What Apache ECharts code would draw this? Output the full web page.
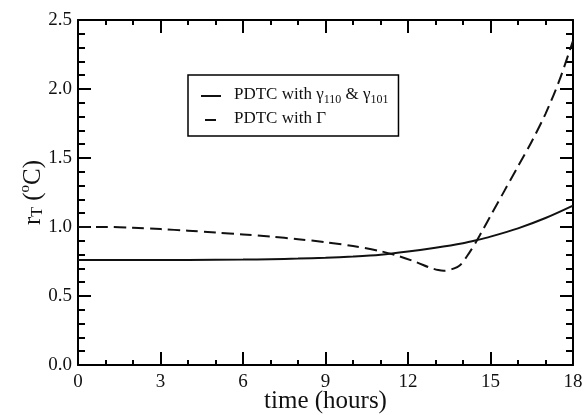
<!DOCTYPE html>
<html>
<head>
<meta charset="utf-8">
<script src="https://cdn.jsdelivr.net/npm/echarts@6/dist/echarts.min.js"></script>
<style>
  html, body { margin: 0; padding: 0; background: #fff; }
  #chart { width: 584px; height: 415px; }
</style>
</head>
<body>
<div id="chart"></div>
<script>
// time (hours) and r_T values
const solidTime = [0, 2, 4, 6, 7, 8, 9, 10, 11, 12, 13, 14, 14.5, 15, 16, 17, 18];
const solidR = [0.76, 0.76, 0.761, 0.764, 0.767, 0.771, 0.777, 0.786, 0.799, 0.822, 0.85, 0.883, 0.905, 0.93, 0.99, 1.065, 1.155];

const dashTime = [0, 1, 2, 3, 4, 5, 6, 7, 8, 9, 10, 11, 11.7, 12.3, 12.8, 13.1, 13.3, 13.6, 13.9, 14.25, 14.5, 14.75, 15, 15.5, 16, 16.5, 17, 17.5, 18];
const dashR = [1.0, 1.0, 0.995, 0.985, 0.973, 0.96, 0.946, 0.93, 0.912, 0.89, 0.862, 0.825, 0.787, 0.745, 0.705, 0.688, 0.683, 0.695, 0.725, 0.82, 0.9, 0.99, 1.08, 1.26, 1.44, 1.62, 1.82, 2.06, 2.35];

const seriesNames = ['gamma', 'Gamma'];
const xTicks = [0, 18, 3];
const yTicks = [0, 2.5, 0.5];

const font = '"Liberation Serif", "DejaVu Serif", serif';

const chart = echarts.init(document.getElementById('chart'));

const axisCommon = {
  axisLine: { onZero: false, lineStyle: { color: '#000', width: 2 } },
  axisTick: { inside: true, length: 13, lineStyle: { color: '#000', width: 2 } },
  splitLine: { show: false },
  nameMoveOverlap: false,
};

const xBase = {
  ...axisCommon,
  type: 'value',
  min: xTicks[0], max: xTicks[1], interval: xTicks[2],
  minorTick: { show: true, splitNumber: 3, length: 5, lineStyle: { color: '#000', width: 2 } },
};
const yBase = {
  ...axisCommon,
  type: 'value',
  min: yTicks[0], max: yTicks[1], interval: yTicks[2],
  minorTick: { show: true, splitNumber: 5, length: 7, lineStyle: { color: '#000', width: 2 } },
};

const option = {
  animation: false,
  grid: { left: 78, right: 11, top: 20, bottom: 50, outerBoundsMode: 'none' },
  legend: {
    orient: 'vertical',
    left: 188, top: 75,
    padding: [10, 10, 9, 12],
    itemGap: 4,
    itemWidth: 20,
    itemHeight: 2,
    borderColor: '#000',
    borderWidth: 1.5,
    borderRadius: 0,
    data: [
      { name: seriesNames[0] },
      { name: seriesNames[1], lineStyle: { type: [11, 30], dashOffset: -4 } },
    ],
    formatter: name => name === seriesNames[0]
      ? '{t|PDTC with γ}{s|110}{t| & γ}{s|101}'
      : '{t|PDTC with Γ}',
    textStyle: {
      padding: [0, 0, 0, 8],
      rich: {
        t: { fontFamily: font, fontSize: 17, color: '#111', lineHeight: 20, verticalAlign: 'top' },
        s: { fontFamily: font, fontSize: 12, color: '#111', lineHeight: 14, verticalAlign: 'bottom', padding: [9, 0, 0, 0] },
      },
    },
  },
  xAxis: [
    {
      ...xBase,
      position: 'bottom',
      name: 'time (hours)',
      nameLocation: 'middle',
      nameGap: 24,
      nameTextStyle: { fontFamily: font, fontSize: 25, color: '#111' },
      axisLabel: { fontFamily: font, fontSize: 19, color: '#111', margin: 8 },
    },
    { ...xBase, position: 'top', axisLabel: { show: false } },
  ],
  yAxis: [
    {
      ...yBase,
      position: 'left',
      name: '{r|r}{sub|T}{r| (}{sup|o}{r|C)}',
      nameLocation: 'middle',
      nameGap: 32,
      nameTextStyle: {
        rich: {
          r: { fontFamily: font, fontSize: 25, color: '#111', verticalAlign: 'bottom', lineHeight: 28 },
          sub: { fontFamily: font, fontSize: 16, color: '#111', verticalAlign: 'bottom', lineHeight: 16, padding: [8, 0, 0, 0] },
          sup: { fontFamily: font, fontSize: 15, color: '#111', verticalAlign: 'top', lineHeight: 28, padding: [0, 0, 12, 0] },
        },
      },
      axisLabel: {
        fontFamily: font, fontSize: 19, color: '#111', margin: 6,
        formatter: v => v.toFixed(1),
      },
    },
    { ...yBase, position: 'right', axisLabel: { show: false } },
  ],
  series: [
    {
      name: seriesNames[0],
      type: 'line',
      symbol: 'none',
      smooth: 0.3,
      data: solidTime.map((t, i) => [t, solidR[i]]),
      lineStyle: { color: '#111', width: 2 },
      itemStyle: { color: '#111' },
    },
    {
      name: seriesNames[1],
      type: 'line',
      symbol: 'none',
      smooth: 0.3,
      data: dashTime.map((t, i) => [t, dashR[i]]),
      lineStyle: { color: '#111', width: 2, type: [12, 6] },
      itemStyle: { color: '#111' },
    },
  ],
};

chart.setOption(option);
</script>
</body>
</html>
